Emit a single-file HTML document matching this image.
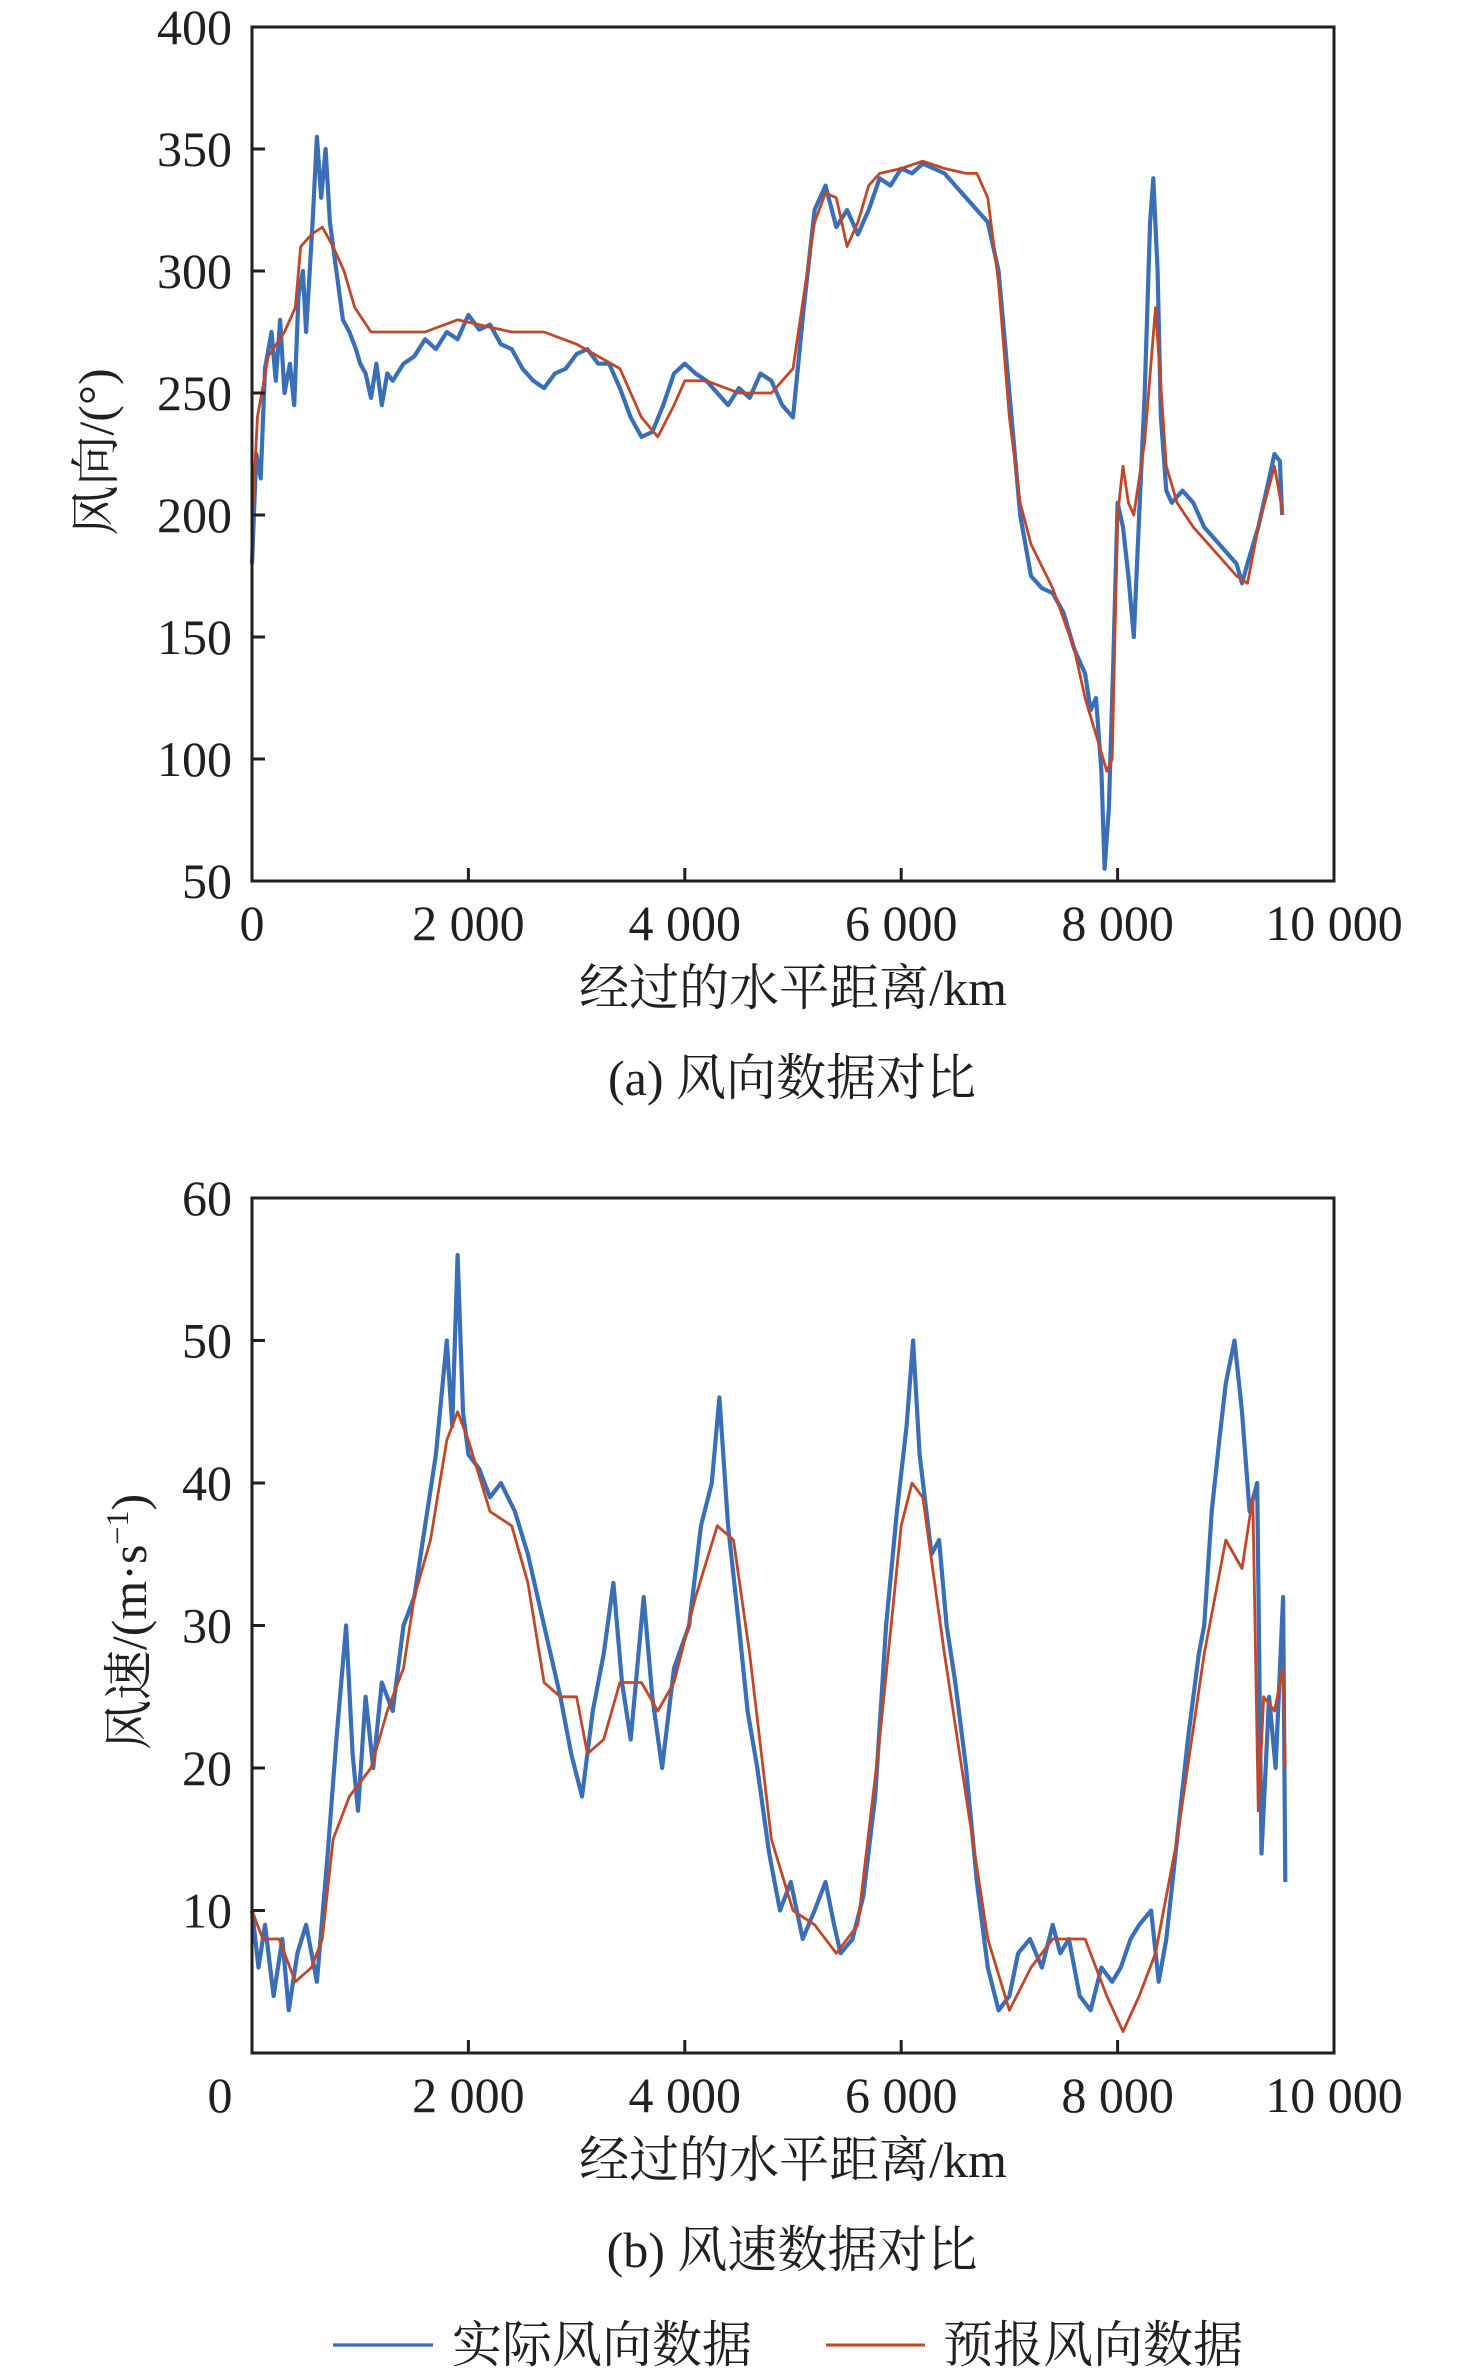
<!DOCTYPE html>
<html><head><meta charset="utf-8"><style>
html,body{margin:0;padding:0;background:#fff}
svg{display:block}
text{font-family:"Liberation Serif","Noto Serif CJK SC",serif;fill:#231f20}
</style></head><body>
<svg id="c" width="1476" height="2375" viewBox="0 0 1476 2375" xmlns="http://www.w3.org/2000/svg"></svg>
<script>
const xTicks=[0,2000,4000,6000,8000,10000];
const xTickLabels=["0","2 000","4 000","6 000","8 000","10 000"];
const dirTicks=[50,100,150,200,250,300,350,400];
const spdTicks=[0,10,20,30,40,50,60];
const dirActualX=[0,40,80,120,180,220,260,300,350,390,430,470,500,560,600,640,680,720,780,840,900,960,1000,1050,1100,1150,1200,1250,1300,1400,1500,1600,1700,1800,1900,2000,2100,2200,2300,2400,2500,2600,2700,2800,2900,3000,3100,3200,3300,3400,3500,3600,3700,3800,3900,4000,4100,4200,4300,4400,4500,4600,4700,4800,4900,5000,5100,5200,5300,5400,5500,5600,5700,5800,5900,6000,6100,6200,6300,6400,6500,6600,6700,6800,6900,7000,7100,7200,7300,7400,7500,7600,7700,7750,7800,7850,7880,7920,7960,8000,8050,8100,8150,8200,8250,8300,8330,8370,8400,8450,8500,8600,8700,8800,8900,9000,9100,9150,9200,9300,9400,9450,9500,9520];
const dirActual=[180,225,215,260,275,255,280,250,262,245,290,300,275,320,355,330,350,320,300,280,275,268,262,258,248,262,245,258,255,262,265,272,268,275,272,282,276,278,270,268,260,255,252,258,260,266,268,262,262,252,240,232,234,245,258,262,258,255,250,245,252,248,258,255,245,240,285,325,335,318,325,315,325,338,335,342,340,344,342,340,335,330,325,320,300,250,200,175,170,168,160,145,135,120,125,95,55,80,140,205,195,175,150,200,250,320,338,300,240,210,205,210,205,195,190,185,180,172,180,195,215,225,222,200];
const dirForecastX=[0,50,150,300,400,450,550,650,750,850,950,1100,1300,1600,1900,2100,2400,2700,3000,3200,3400,3600,3750,3900,4000,4200,4500,4800,5000,5100,5200,5300,5400,5500,5600,5700,5800,6000,6200,6400,6600,6700,6800,6900,7000,7100,7200,7400,7600,7700,7800,7900,7950,8000,8050,8100,8150,8250,8350,8450,8550,8700,8900,9000,9100,9200,9300,9450,9530];
const dirForecast=[195,240,265,275,285,310,315,318,310,300,285,275,275,275,280,278,275,275,270,265,260,240,232,245,255,255,250,250,260,290,320,332,330,310,320,335,340,342,345,342,340,340,330,295,240,205,188,170,145,125,110,95,100,200,220,205,200,230,285,220,205,195,185,180,175,172,195,220,200];
const spdActualX=[0,60,120,200,280,340,420,500,600,700,780,870,930,980,1050,1120,1200,1300,1400,1500,1600,1700,1800,1850,1900,1950,2000,2100,2200,2300,2430,2550,2700,2850,2950,3050,3150,3250,3340,3420,3500,3620,3700,3790,3900,4040,4150,4250,4320,4400,4500,4580,4670,4780,4880,4980,5090,5200,5300,5380,5440,5550,5650,5760,5860,5960,6050,6110,6170,6280,6350,6420,6500,6600,6700,6800,6900,7000,7080,7190,7300,7400,7470,7550,7650,7750,7850,7950,8030,8120,8200,8310,8380,8450,8550,8650,8750,8800,8870,8940,9000,9080,9150,9220,9290,9330,9400,9460,9530,9550];
const spdActual=[10,6,9,4,8,3,7,9,5,14,22,30,21,17,25,20,26,24,30,32,37,42,50,44,56,45,42,41,39,40,38,35,30,25,21,18,24,28,33,26,22,32,25,20,27,30,37,40,46,37,30,24,20,14,10,12,8,10,12,9,7,8,11,18,30,38,44,50,42,35,36,30,26,20,12,6,3,4,7,8,6,9,7,8,4,3,6,5,6,8,9,10,5,8,15,22,28,30,38,43,47,50,45,38,40,14,25,20,32,12];
const spdForecastX=[0,100,250,400,550,650,750,900,1100,1250,1400,1500,1650,1800,1900,2000,2200,2400,2550,2700,2850,3000,3100,3250,3400,3600,3750,3900,4100,4300,4450,4600,4800,5000,5200,5400,5600,5800,6000,6100,6200,6400,6600,6800,7000,7200,7400,7700,7900,8050,8200,8350,8550,8800,9000,9150,9250,9300,9350,9450,9530,9550];
const spdForecast=[10,8,8,5,6,8,15,18,20,24,27,32,36,43,45,43,38,37,33,26,25,25,21,22,26,26,24,26,32,37,36,28,15,10,9,7,9,22,37,40,39,28,18,8,3,6,8,8,4,1.5,4,7,15,28,36,34,39,17,25,24,27,20];

const svg=document.getElementById('c');
const NS='http://www.w3.org/2000/svg';
function mk(tag,attrs,parent){const e=document.createElementNS(NS,tag);for(const k in attrs)e.setAttribute(k,attrs[k]);(parent||svg).appendChild(e);return e;}
function txt(s,x,y,anchor,size,parent){const t=mk('text',{x:x,y:y,'text-anchor':anchor,'font-size':size},parent);t.textContent=s;return t;}

const L=252,R=1334;
function xs(v){return L+(v/10000)*(R-L);}

function panel(top,bottom,yMin,yMax,yTicks,opts){
  const g=mk('g',{});
  
  
  const ys=v=>bottom-(v-yMin)/(yMax-yMin)*(bottom-top);
  function line(xsArr,ysArr,color,w,nm){
    let d='';for(let i=0;i<xsArr.length;i++){d+=(i?'L':'M')+xs(xsArr[i]).toFixed(1)+' '+ys(ysArr[i]).toFixed(1);}
    const p=mk('path',{d:d,fill:'none',stroke:color,'stroke-width':w,'stroke-linejoin':'round'},g);
    
    
  }
  line(opts.ax,opts.ay,'#3a6fb7',4.2,opts.name+'-actual-series');
  line(opts.fx,opts.fy,'#c0482a',2.8,opts.name+'-forecast-series');
  const frame=mk('rect',{x:L,y:top,width:R-L,height:bottom-top,fill:'none',stroke:'#231f20','stroke-width':3},g);
  
  
  yTicks.forEach(v=>{
    mk('line',{x1:L,x2:L+13,y1:ys(v),y2:ys(v),stroke:'#231f20','stroke-width':3},g);
    if(opts.skipY0 && v===0) return;
    const t=txt(String(v),232,ys(v)+17,'end',50,g);
    
    
  });
  xTicks.forEach((v,i)=>{
    mk('line',{x1:xs(v),x2:xs(v),y1:bottom,y2:bottom-13,stroke:'#231f20','stroke-width':3},g);
    let x=xs(v);
    if(opts.skipY0 && v===0) x=220;
    const t=txt(xTickLabels[i],x,bottom+59,'middle',50,g);
    
    
  });
  const xt=txt('经过的水平距离/km',793,bottom+124,'middle',50,g);
  
  
  const cap=txt(opts.caption,792,bottom+214,'middle',50,g);
  
  
  return g;
}

panel(27,881,50,400,dirTicks,{name:'wind-direction-chart',ax:dirActualX,ay:dirActual,fx:dirForecastX,fy:dirForecast,caption:'(a) 风向数据对比'});
panel(1198,2053,0,60,spdTicks,{name:'wind-speed-chart',ax:spdActualX,ay:spdActual,fx:spdForecastX,fy:spdForecast,caption:'(b) 风速数据对比',skipY0:true});

const yt1=mk('text',{x:0,y:0,'text-anchor':'middle','font-size':50,transform:'translate(113,452) rotate(-90)'});
yt1.textContent='风向/(°)';


const yt2=mk('text',{x:0,y:0,'text-anchor':'middle','font-size':50,transform:'translate(146,1622) rotate(-90)'});
yt2.innerHTML='风速/(m·s<tspan dy="-18" font-size="32">−1</tspan><tspan dy="18">)</tspan>';



const lg=mk('g',{});


const e1=mk('g',{},lg);


mk('line',{x1:333,x2:433,y1:2345,y2:2345,stroke:'#3a6fb7','stroke-width':3.2},e1);
txt('实际风向数据',452,2362,'start',50,e1);
const e2=mk('g',{},lg);


mk('line',{x1:826,x2:925,y1:2345,y2:2345,stroke:'#c0482a','stroke-width':3},e2);
txt('预报风向数据',943,2362,'start',50,e2);
</script>
</body></html>
